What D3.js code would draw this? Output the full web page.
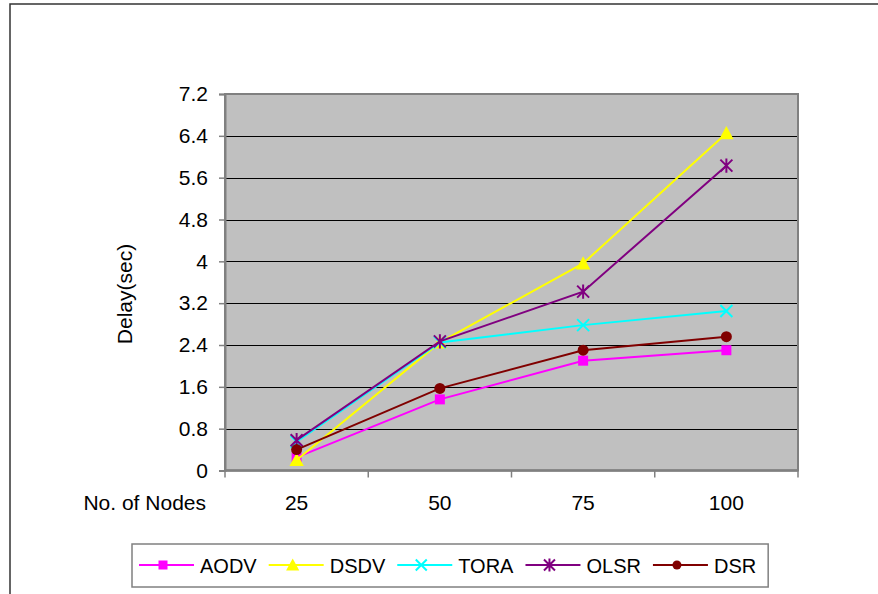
<!DOCTYPE html>
<html>
<head>
<meta charset="utf-8">
<script src="https://cdn.jsdelivr.net/npm/d3@7"></script>
<style>
  html, body { margin: 0; padding: 0; background: #ffffff; }
  svg { display: block; }
  text { font-family: "Liberation Sans", Arial, sans-serif; fill: #000; }
</style>
</head>
<body>
<svg id="chart" width="878" height="594"></svg>
<script>
// Number of nodes in the network
const nodes = ["25", "50", "75", "100"];

// End-to-end delay (sec) per routing protocol
const aodv = [0.25, 1.36, 2.10, 2.30];
const dsdv = [0.20, 2.45, 3.96, 6.45];
const tora = [0.55, 2.45, 2.78, 3.05];
const olsr = [0.58, 2.47, 3.42, 5.83];
const dsr  = [0.40, 1.57, 2.30, 2.56];

const yTicks = [0, 0.8, 1.6, 2.4, 3.2, 4, 4.8, 5.6, 6.4, 7.2];

const series = [
  { name: "AODV", values: aodv, color: "#FF00FF", marker: "square" },
  { name: "DSDV", values: dsdv, color: "#FFFF00", marker: "triangle" },
  { name: "TORA", values: tora, color: "#00FFFF", marker: "cross" },
  { name: "OLSR", values: olsr, color: "#800080", marker: "star" },
  { name: "DSR",  values: dsr,  color: "#800000", marker: "circle" }
];

const FONT = 21;
const LEGEND_FONT = 20;
const svg = d3.select("#chart");

// chart area frame (runs past the right and bottom edges)
svg.append("rect")
  .attr("x", 10).attr("y", 4)
  .attr("width", 1000).attr("height", 800)
  .attr("fill", "none").attr("stroke", "#333").attr("stroke-width", 1.5);

const plot = { left: 225, right: 798, top: 94, bottom: 470.5 };

const x = d3.scaleBand().domain(nodes).range([plot.left, plot.right]);
const y = d3.scaleLinear().domain([0, 7.2]).range([plot.bottom, plot.top]);

// plot background
svg.append("rect")
  .attr("x", plot.left).attr("y", plot.top)
  .attr("width", plot.right - plot.left).attr("height", plot.bottom - plot.top)
  .attr("fill", "#C0C0C0");

// horizontal gridlines
svg.append("g")
  .selectAll("line")
  .data(yTicks.filter(t => t > 0 && t < 7.2))
  .join("line")
  .attr("x1", plot.left).attr("x2", plot.right)
  .attr("y1", d => Math.round(y(d)) + 0.5).attr("y2", d => Math.round(y(d)) + 0.5)
  .attr("stroke", "#000").attr("stroke-width", 1);

// plot border
svg.append("rect")
  .attr("x", plot.left).attr("y", plot.top)
  .attr("width", plot.right - plot.left).attr("height", plot.bottom - plot.top)
  .attr("fill", "none").attr("stroke", "#808080").attr("stroke-width", 2);

// y axis
const yAxis = d3.axisLeft(y)
  .tickValues(yTicks)
  .tickFormat(d => String(d))
  .tickSize(6)
  .tickPadding(11);
const gy = svg.append("g").attr("transform", `translate(${plot.left},0)`).call(yAxis);
gy.select(".domain").attr("stroke", "#808080").attr("stroke-width", 2);
gy.selectAll(".tick line").attr("stroke", "#808080").attr("stroke-width", 1.5);
gy.selectAll(".tick text").attr("font-size", FONT).attr("fill", "#000")
  .style("font-family", "'Liberation Sans', Arial, sans-serif");

// x axis: ticks sit on the category boundaries, labels in the middle
const gx = svg.append("g").attr("transform", `translate(0,${plot.bottom})`);
gx.append("line")
  .attr("x1", plot.left).attr("x2", plot.right)
  .attr("y1", 0).attr("y2", 0)
  .attr("stroke", "#808080").attr("stroke-width", 2.5);
const bounds = nodes.map(n => x(n)).concat([x(nodes[nodes.length - 1]) + x.bandwidth()]);
gx.selectAll("line.tick")
  .data(bounds)
  .join("line")
  .attr("class", "tick")
  .attr("x1", d => d).attr("x2", d => d)
  .attr("y1", 0).attr("y2", 7)
  .attr("stroke", "#808080").attr("stroke-width", 1.5);
gx.selectAll("text.lbl")
  .data(nodes)
  .join("text")
  .attr("class", "lbl")
  .attr("x", d => x(d) + x.bandwidth() / 2)
  .attr("y", 39)
  .attr("text-anchor", "middle")
  .attr("font-size", FONT)
  .text(d => d);

// category axis caption, placed to the left of the first label
svg.append("text")
  .attr("x", 206).attr("y", plot.bottom + 39)
  .attr("text-anchor", "end")
  .attr("font-size", FONT)
  .text("No. of Nodes");

// value axis title
svg.append("text")
  .attr("transform", `translate(132,294) rotate(-90)`)
  .attr("text-anchor", "middle")
  .attr("font-size", FONT)
  .text("Delay(sec)");

// marker drawing
function drawMarker(g, type, color, size) {
  const s = size;
  switch (type) {
    case "square":
      g.append("rect").attr("x", -s / 2).attr("y", -s / 2).attr("width", s).attr("height", s)
        .attr("fill", color);
      break;
    case "triangle":
      g.append("path")
        .attr("d", `M0,${-s * 0.6}L${s * 0.6},${s * 0.5}L${-s * 0.6},${s * 0.5}Z`)
        .attr("fill", color);
      break;
    case "cross":
      g.append("path")
        .attr("d", `M${-s / 2},${-s / 2}L${s / 2},${s / 2}M${-s / 2},${s / 2}L${s / 2},${-s / 2}`)
        .attr("stroke", color).attr("stroke-width", 2).attr("fill", "none");
      break;
    case "star":
      g.append("path")
        .attr("d", `M${-s / 2},${-s / 2}L${s / 2},${s / 2}M${-s / 2},${s / 2}L${s / 2},${-s / 2}M0,${-s * 0.6}L0,${s * 0.6}`)
        .attr("stroke", color).attr("stroke-width", 2).attr("fill", "none");
      break;
    case "circle":
      g.append("circle").attr("r", s / 2).attr("fill", color);
      break;
  }
}

const cx = d => x(d) + x.bandwidth() / 2;
const line = d3.line().x((v, i) => cx(nodes[i])).y(v => y(v));

// series lines and markers
series.forEach(s => {
  const g = svg.append("g");
  g.append("path")
    .attr("d", line(s.values))
    .attr("fill", "none")
    .attr("stroke", s.color)
    .attr("stroke-width", 2);
  s.values.forEach((v, i) => {
    const m = g.append("g").attr("transform", `translate(${cx(nodes[i])},${y(v)})`);
    drawMarker(m, s.marker, s.color, s.marker === "circle" ? 11 : (s.marker === "square" ? 10 : 12));
  });
});

// legend
const legend = svg.append("g");
const legBox = legend.append("rect")
  .attr("fill", "#fff").attr("stroke", "#808080").attr("stroke-width", 1.5);
let lx = 139;
const ly = 565;
series.forEach(s => {
  const item = legend.append("g");
  item.append("line")
    .attr("x1", lx).attr("x2", lx + 55)
    .attr("y1", ly).attr("y2", ly)
    .attr("stroke", s.color).attr("stroke-width", 2);
  const m = item.append("g").attr("transform", `translate(${lx + 24},${ly})`);
  drawMarker(m, s.marker, s.color, s.marker === "circle" ? 9 : (s.marker === "square" ? 9 : 11));
  const t = item.append("text")
    .attr("x", lx + 61).attr("y", ly + 7.5)
    .attr("font-size", LEGEND_FONT)
    .text(s.name);
  lx = lx + 61 + t.node().getComputedTextLength() + 12;
});
legBox.attr("x", 132).attr("y", 544).attr("width", lx - 132).attr("height", 43);
</script>
</body>
</html>
